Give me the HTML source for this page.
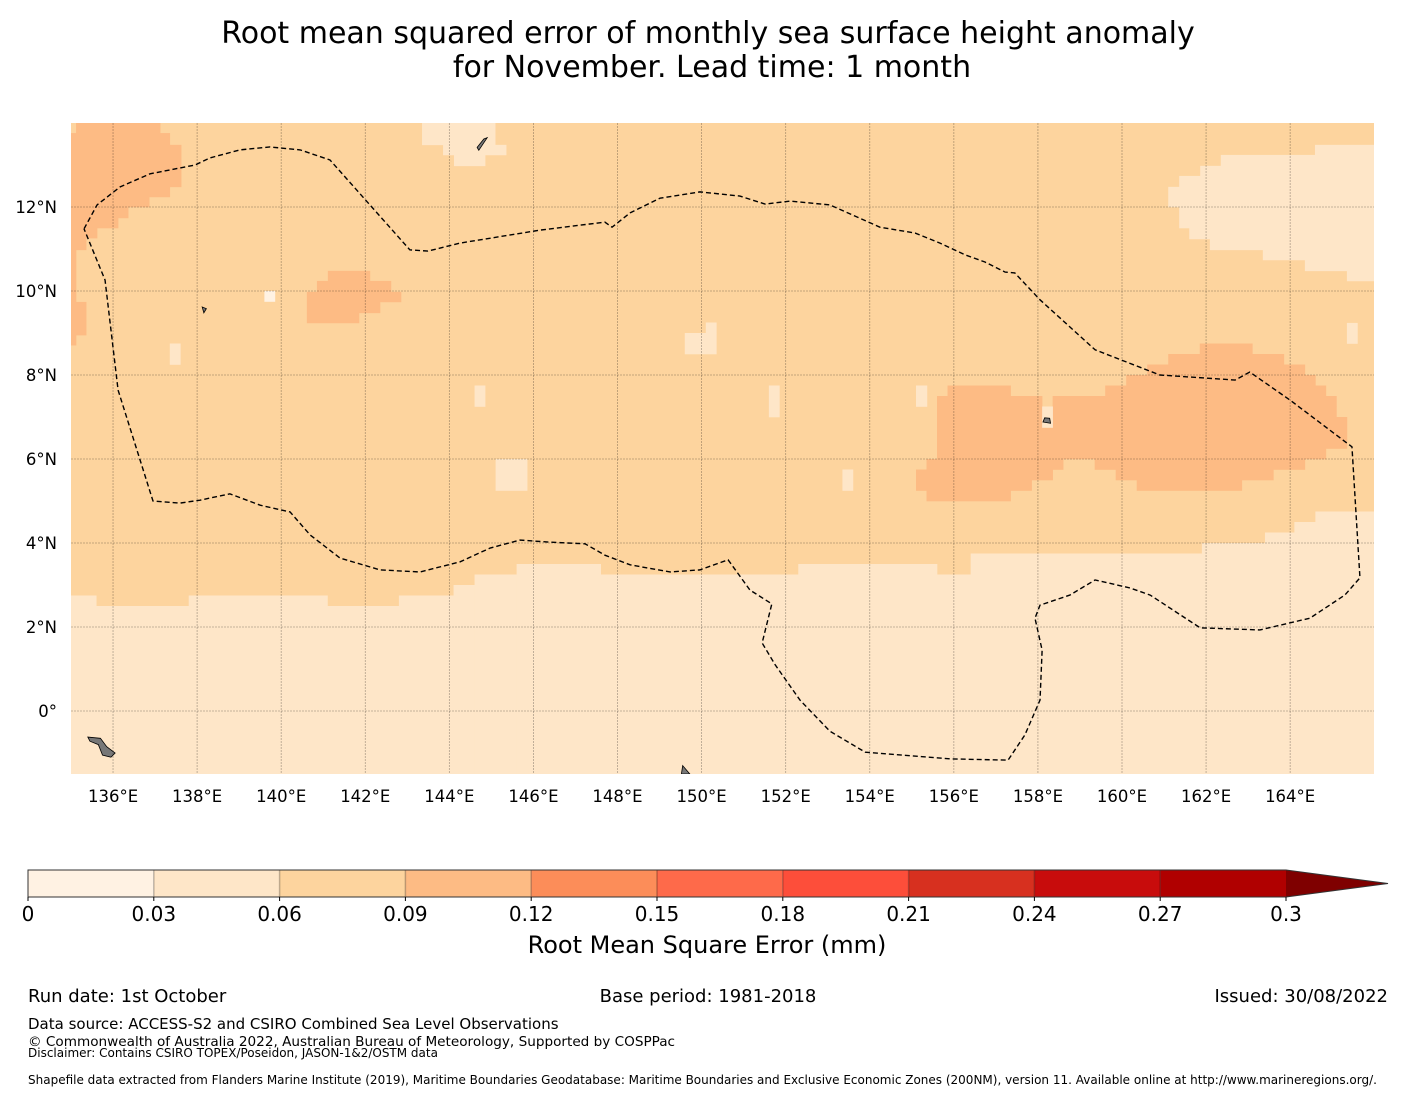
<!DOCTYPE html>
<html><head><meta charset="utf-8"><title>RMSE SSH anomaly</title>
<style>
html,body{margin:0;padding:0;background:#fff;}
svg{display:block;font-family:"DejaVu Sans","Liberation Sans",sans-serif;}
</style></head>
<body>
<svg id="fig" width="1416" height="1095" viewBox="0 0 1416 1095" xmlns="http://www.w3.org/2000/svg">
<text x="708" y="43" font-size="30" text-anchor="middle">Root mean squared error of monthly sea surface height anomaly</text>
<text x="712" y="77" font-size="30" text-anchor="middle">for November. Lead time: 1 month</text>
<defs><clipPath id="mapclip"><rect x="71" y="123" width="1303" height="651"/></clipPath></defs>
<g id="map" clip-path="url(#mapclip)"></g>
<g id="axes"></g>
<g id="cbar"></g>
<text x="707" y="953" font-size="24" text-anchor="middle">Root Mean Square Error (mm)</text>
<text x="28" y="1002" font-size="18">Run date: 1st October</text>
<text x="708" y="1002" font-size="18" text-anchor="middle">Base period: 1981-2018</text>
<text x="1388" y="1002" font-size="18" text-anchor="end">Issued: 30/08/2022</text>
<text x="28" y="1029" font-size="15">Data source: ACCESS-S2 and CSIRO Combined Sea Level Observations</text>
<text x="28" y="1046" font-size="13.6">© Commonwealth of Australia 2022, Australian Bureau of Meteorology, Supported by COSPPac</text>
<text x="28" y="1057" font-size="12">Disclaimer: Contains CSIRO TOPEX/Poseidon, JASON-1&amp;2/OSTM data</text>
<text x="28" y="1084" font-size="12">Shapefile data extracted from Flanders Marine Institute (2019), Maritime Boundaries Geodatabase: Maritime Boundaries and Exclusive Economic Zones (200NM), version 11. Available online at http://www.marineregions.org/.</text>
</svg>
<script>
// ---- data ----
var binEdges = [0,0.03,0.06,0.09,0.12,0.15,0.18,0.21,0.24,0.27,0.3];
var binColors = ['#fff2e3','#fee6c8','#fdd49e','#fdbb84','#fc8d59','#fe6a4a','#fd4e3a','#d7301f','#c80c0c','#b00000'];
var extendColor = '#7f0000';
var cbarTickLabels = ['0','0.03','0.06','0.09','0.12','0.15','0.18','0.21','0.24','0.27','0.3'];
var lonTicks = [136,138,140,142,144,146,148,150,152,154,156,158,160,162,164];
var latTicks = [0,2,4,6,8,10,12];
var latTickLabels = ['0°','2°N','4°N','6°N','8°N','10°N','12°N'];
var baseValue = 0.075;
// patches: lon0, lon1, lat0, lat1, value (RMSE)
var patchLon0 = [135,135.6,137.8,141.1,142.8,144.1,144.6,145.6,147.6,152.3,155.6,156.4,161.9,163.4,164.1,164.6,
 135.12,135,135,135,135,135,135,135,135,135,135,
 141.11,140.85,140.61,140.61,140.61,
 143.35,143.85,144.11,
 164.59,162.35,161.86,161.36,161.1,161.36,161.6,162.09,163.35,164.35,165.35,165.35,
 161.85,161.1,160.6,160.1,155.85,159.6,155.6,158.35,155.6,155.6,155.6,155.35,159.35,155.1,159.85,155.1,160.35,155.35,
 158.1,155.1,137.35,144.6,145.1,149.6,150.1,151.6,153.35,139.6];
var patchLon1 = [135.6,137.8,141.1,142.8,144.1,144.6,145.6,147.6,152.3,155.6,156.4,161.9,163.4,164.1,164.6,166,
 137.12,137.35,137.62,137.35,136.86,136.36,136.12,135.62,135.36,135.12,135.36,
 142.11,142.61,142.85,142.35,141.85,
 145.09,145.35,144.85,
 166,166,166,166,166,166,166,166,166,166,166,165.6,
 163.1,163.85,164.35,164.6,157.35,164.85,158.1,165.1,165.1,165.35,164.85,158.6,164.35,158.35,163.6,157.85,162.85,157.35,
 158.35,155.36,137.6,144.85,145.85,150.35,150.35,151.85,153.6,139.85];
var patchLat0 = [-1.5,-1.5,-1.5,-1.5,-1.5,-1.5,-1.5,-1.5,-1.5,-1.5,-1.5,-1.5,-1.5,-1.5,-1.5,-1.5,
 13.76,13.48,12.48,12.24,12.0,11.74,11.5,11.26,10.98,8.71,8.95,
 10.24,9.98,9.74,9.48,9.24,
 13.48,13.24,12.98,
 13.24,12.98,12.74,12.48,12.0,11.5,11.24,10.98,10.74,10.48,10.24,8.75,
 8.5,8.25,8.0,7.75,7.5,7.5,7.25,7.25,7.0,6.25,6.0,5.75,5.75,5.5,5.5,5.25,5.25,5.0,
 6.75,7.25,8.25,7.25,5.25,8.5,9.0,7.0,5.25,9.75];
var patchLat1 = [2.75,2.5,2.75,2.5,2.75,3.0,3.25,3.5,3.25,3.5,3.25,3.75,4.0,4.25,4.5,4.75,
 14,13.76,13.48,12.48,12.24,12.0,11.74,11.5,11.26,10.98,9.74,
 10.48,10.24,9.98,9.74,9.48,
 14,13.48,13.24,
 13.48,13.24,12.98,12.74,12.48,12.0,11.5,11.24,10.98,10.74,10.48,9.24,
 8.75,8.5,8.25,8.0,7.75,7.75,7.5,7.5,7.25,7.0,6.25,6.0,6.0,5.75,5.75,5.5,5.5,5.25,
 7.25,7.75,8.75,7.75,6.0,9.0,9.25,7.75,5.75,10.0];
var patchValue = [0.045,0.045,0.045,0.045,0.045,0.045,0.045,0.045,0.045,0.045,0.045,0.045,0.045,0.045,0.045,0.045,
 0.1,0.1,0.1,0.1,0.1,0.1,0.1,0.1,0.1,0.1,0.1,
 0.1,0.1,0.1,0.1,0.1,
 0.045,0.045,0.045,
 0.045,0.045,0.045,0.045,0.045,0.045,0.045,0.045,0.045,0.045,0.045,0.045,
 0.1,0.1,0.1,0.1,0.1,0.1,0.1,0.1,0.1,0.1,0.1,0.1,0.1,0.1,0.1,0.1,0.1,0.1,
 0.045,0.045,0.045,0.045,0.045,0.045,0.045,0.045,0.045,0.02];
// EEZ boundary (lon, lat)
var eezLon = [135.31,135.62,136.17,136.88,137.95,138.31,139.02,139.73,140.45,141.16,142.11,143.06,143.49,144.25,146.16,147.70,147.87,148.30,149.01,149.96,150.91,151.51,152.10,153.05,154.24,155.08,155.67,156.27,156.74,157.22,157.45,158.05,159.36,160.90,162.69,163.04,164.00,165.47,165.66,165.30,164.47,163.28,161.86,160.67,160.19,159.36,158.76,158.05,157.93,158.10,158.05,157.69,157.29,155.91,153.89,153.05,152.34,151.75,151.44,151.67,151.15,150.63,149.96,149.25,148.30,147.70,147.23,146.39,145.68,144.97,144.25,143.30,142.35,141.40,140.69,140.21,139.50,138.78,138.07,137.59,136.95,136.12,135.81,135.31];
var eezLat = [11.48,12.05,12.48,12.79,13.00,13.17,13.36,13.43,13.36,13.12,12.05,10.98,10.95,11.14,11.45,11.64,11.52,11.86,12.21,12.36,12.26,12.07,12.14,12.05,11.52,11.38,11.14,10.86,10.69,10.45,10.43,9.79,8.60,8.00,7.88,8.07,7.40,6.29,3.17,2.76,2.21,1.93,1.98,2.76,2.93,3.12,2.76,2.52,2.21,1.45,0.26,-0.57,-1.17,-1.14,-0.98,-0.48,0.26,1.10,1.62,2.55,2.88,3.60,3.36,3.31,3.48,3.71,3.98,4.02,4.07,3.88,3.55,3.31,3.36,3.64,4.19,4.74,4.90,5.17,5.02,4.95,5.00,7.64,10.26,11.48];
// ---- scales ----
var lonMin=135, latMax=14;
var pxPerLon=42.04, pxPerLat=42;
function xScale(lon){ return 71 + (lon-lonMin)*pxPerLon; }
function yScale(lat){ return 123 + (latMax-lat)*pxPerLat; }
function colorFor(v){ for(var i=0;i<binColors.length;i++){ if(v<binEdges[i+1]) return binColors[i]; } return extendColor; }
var NS='http://www.w3.org/2000/svg';
function mk(tag, attrs, parent){ var e=document.createElementNS(NS,tag); for(var k in attrs) e.setAttribute(k,attrs[k]); parent.appendChild(e); return e; }

var map=document.getElementById('map');
var bg=mk('rect',{x:xScale(135),y:yScale(14),width:xScale(166)-xScale(135),height:yScale(-1.5)-yScale(14),fill:colorFor(baseValue)},map);


for(var i=0;i<patchValue.length;i++){
  var r=mk('rect',{x:xScale(patchLon0[i]),y:yScale(patchLat1[i]),width:xScale(patchLon1[i])-xScale(patchLon0[i])+0.3,height:yScale(patchLat0[i])-yScale(patchLat1[i])+0.3,fill:colorFor(patchValue[i])},map);
  
  
}
// islands
var isl=[[135.4,-0.62,135.7,-0.65,135.85,-0.85,136.05,-1.0,135.95,-1.1,135.75,-1.05,135.65,-0.8,135.45,-0.72],[144.7,13.35,144.9,13.65,144.82,13.62,144.66,13.42],[158.12,6.88,158.3,6.85,158.28,6.97,158.16,6.98],[149.55,-1.3,149.72,-1.5,149.52,-1.5],[138.12,9.62,138.22,9.58,138.16,9.48]];
for(var a=0;a<isl.length;a++){ var p=isl[a]; var pts=[]; for(var j=0;j<p.length;j+=2) pts.push(xScale(p[j])+','+yScale(p[j+1]));
  var g=mk('polygon',{points:pts.join(' '),fill:'#777',stroke:'#000','stroke-width':0.8},map);
  
  
}
// grid
var axes=document.getElementById('axes');
for(var a=0;a<lonTicks.length;a++){ var l=lonTicks[a];
  var ln=mk('line',{x1:xScale(l),x2:xScale(l),y1:123,y2:774,stroke:'#000','stroke-opacity':0.3,'stroke-width':0.8,'stroke-dasharray':'2,1'},map);
  
  
  var t=mk('text',{x:xScale(l),y:802,'font-size':16.5,'text-anchor':'middle'},axes); t.textContent=l+'°E';
  
  
}
for(var a=0;a<latTicks.length;a++){ var l=latTicks[a];
  var ln=mk('line',{x1:71,x2:1374,y1:yScale(l),y2:yScale(l),stroke:'#000','stroke-opacity':0.3,'stroke-width':0.8,'stroke-dasharray':'2,1'},map);
  
  
  var t=mk('text',{x:57,y:yScale(l)+6,'font-size':16.5,'text-anchor':'end'},axes); t.textContent=latTickLabels[a];
  
  
}
// EEZ
var eezPts=[]; for(var a=0;a<eezLon.length;a++) eezPts.push(xScale(eezLon[a])+','+yScale(eezLat[a]));
var eez=mk('polyline',{points:eezPts.join(' '),fill:'none',stroke:'#000','stroke-width':1.4,'stroke-dasharray':'5,3'},map);


// colorbar
var cb=document.getElementById('cbar');
var cbX0=28, cbX1=1286, cbY=870, cbH=27;
function cbScale(v){ return cbX0 + v/0.3*(cbX1-cbX0); }
for(var a=0;a<binColors.length;a++){
  var r=mk('rect',{x:cbScale(binEdges[a]),y:cbY,width:cbScale(binEdges[a+1])-cbScale(binEdges[a]),height:cbH,fill:binColors[a]},cb);
  
  
  if(a>0){ var d=mk('line',{x1:cbScale(binEdges[a]),x2:cbScale(binEdges[a]),y1:cbY,y2:cbY+cbH,stroke:'#000','stroke-opacity':0.25,'stroke-width':1.5},cb);
    
     }
}
var ext=mk('polygon',{points:cbX1+','+cbY+' '+(cbX1+102)+','+(cbY+cbH/2)+' '+cbX1+','+(cbY+cbH),fill:extendColor},cb);


var ol=mk('polygon',{points:cbX0+','+cbY+' '+cbX1+','+cbY+' '+(cbX1+102)+','+(cbY+cbH/2)+' '+cbX1+','+(cbY+cbH)+' '+cbX0+','+(cbY+cbH),fill:'none',stroke:'#333','stroke-width':1},cb);


for(var a=0;a<binEdges.length;a++){
  var v=binEdges[a];
  var tk=mk('line',{x1:cbScale(v),x2:cbScale(v),y1:cbY+cbH,y2:cbY+cbH+4,stroke:'#000'},cb);
  
  
  var tl=mk('text',{x:cbScale(v),y:921,'font-size':20,'text-anchor':'middle'},cb);
  tl.textContent=cbarTickLabels[a];
  
  
}
</script>
</body></html>
